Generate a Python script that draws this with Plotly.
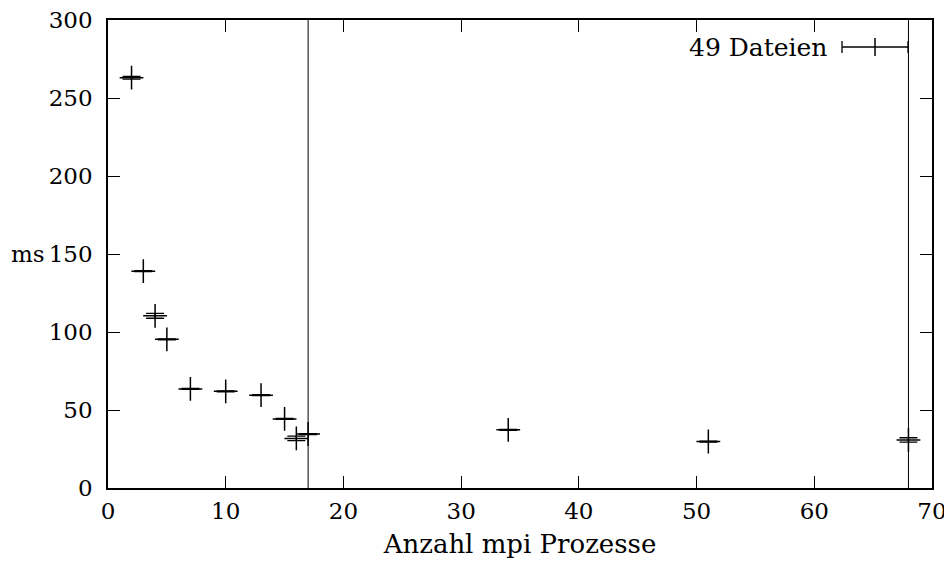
import plotly.graph_objects as go

# Data
processes = [2, 3, 4, 5, 7, 10, 13, 15, 16, 17, 34, 51, 68]
time_ms = [263, 139, 110.4, 95.3, 63.5, 62, 59.5, 44.3, 31.8, 34.6, 37.3, 29.8, 30.8]
time_err = [0.9, 0.3, 1.6, 0.3, 0.3, 0.3, 0.3, 0.3, 1.4, 0.3, 0.3, 0.3, 1.4]
vlines_x = [17, 68]
legend_label = "49 Dateien"
x_title = "Anzahl mpi Prozesse"
y_title = "ms"
x_ticks = [0, 10, 20, 30, 40, 50, 60, 70]
y_ticks = [0, 50, 100, 150, 200, 250, 300]

FONT = "'DejaVu Serif', 'Liberation Serif', serif"
FS = 23

fig = go.Figure()
fig.add_trace(go.Scatter(
    x=processes, y=time_ms, mode="markers",
    marker=dict(symbol="cross-thin", size=17, color="black",
                line=dict(color="black", width=1.5)),
    error_y=dict(type="data", array=time_err, visible=True,
                 color="black", thickness=1.3, width=9),
    showlegend=False,
))

shapes = []
for vx in vlines_x:
    shapes.append(dict(type="line", xref="x", yref="paper", x0=vx, x1=vx, y0=0, y1=1,
                       line=dict(color="black", width=1)))

# custom gnuplot-style key sample (horizontal errorbar with caps and a cross)
ky = 0.9423
kx0, kx1 = 0.8908, 0.9709
kxm = (kx0 + kx1) / 2
cap = 6 / 468
arm = 9 / 468
shapes += [
    dict(type="line", xref="paper", yref="paper", x0=kx0, x1=kx1, y0=ky, y1=ky,
         line=dict(color="black", width=1.3)),
    dict(type="line", xref="paper", yref="paper", x0=kx0, x1=kx0, y0=ky - cap, y1=ky + cap,
         line=dict(color="black", width=1.3)),
    dict(type="line", xref="paper", yref="paper", x0=kx1, x1=kx1, y0=ky - cap, y1=ky + cap,
         line=dict(color="black", width=1.3)),
    dict(type="line", xref="paper", yref="paper", x0=kxm, x1=kxm, y0=ky - arm, y1=ky + arm,
         line=dict(color="black", width=1.5)),
]

annotations = [
    dict(text=legend_label, xref="paper", yref="paper", x=0.875, y=ky,
         xanchor="right", yanchor="middle", showarrow=False,
         font=dict(family=FONT, size=25, color="black")),
    dict(text=y_title, xref="paper", yref="y", x=-0.074, y=150,
         xanchor="right", yanchor="middle", showarrow=False,
         font=dict(family=FONT, size=FS, color="black")),
]

axis_common = dict(ticks="inside", ticklen=12, tickwidth=1, tickcolor="black",
                   showgrid=False, zeroline=False, showline=True,
                   linecolor="black", linewidth=1.5, mirror="ticks",
                   automargin=False, ticklabeloverflow="allow",
                   tickfont=dict(family=FONT, size=FS))

fig.update_layout(
    width=944, height=556,
    margin=dict(l=100, r=20, t=12, b=76, autoexpand=False),
    paper_bgcolor="white", plot_bgcolor="white",
    font=dict(family=FONT, size=FS, color="black"),
    shapes=shapes, annotations=annotations,
    xaxis=dict(range=[0, 70], tickvals=x_ticks, ticklabelstandoff=2,
               title=dict(text=x_title, standoff=11,
                          font=dict(family=FONT, size=26)),
               **axis_common),
    yaxis=dict(range=[0, 300], tickvals=y_ticks, ticklabelstandoff=9,
               **axis_common),
)

fig.write_html("out.html")
